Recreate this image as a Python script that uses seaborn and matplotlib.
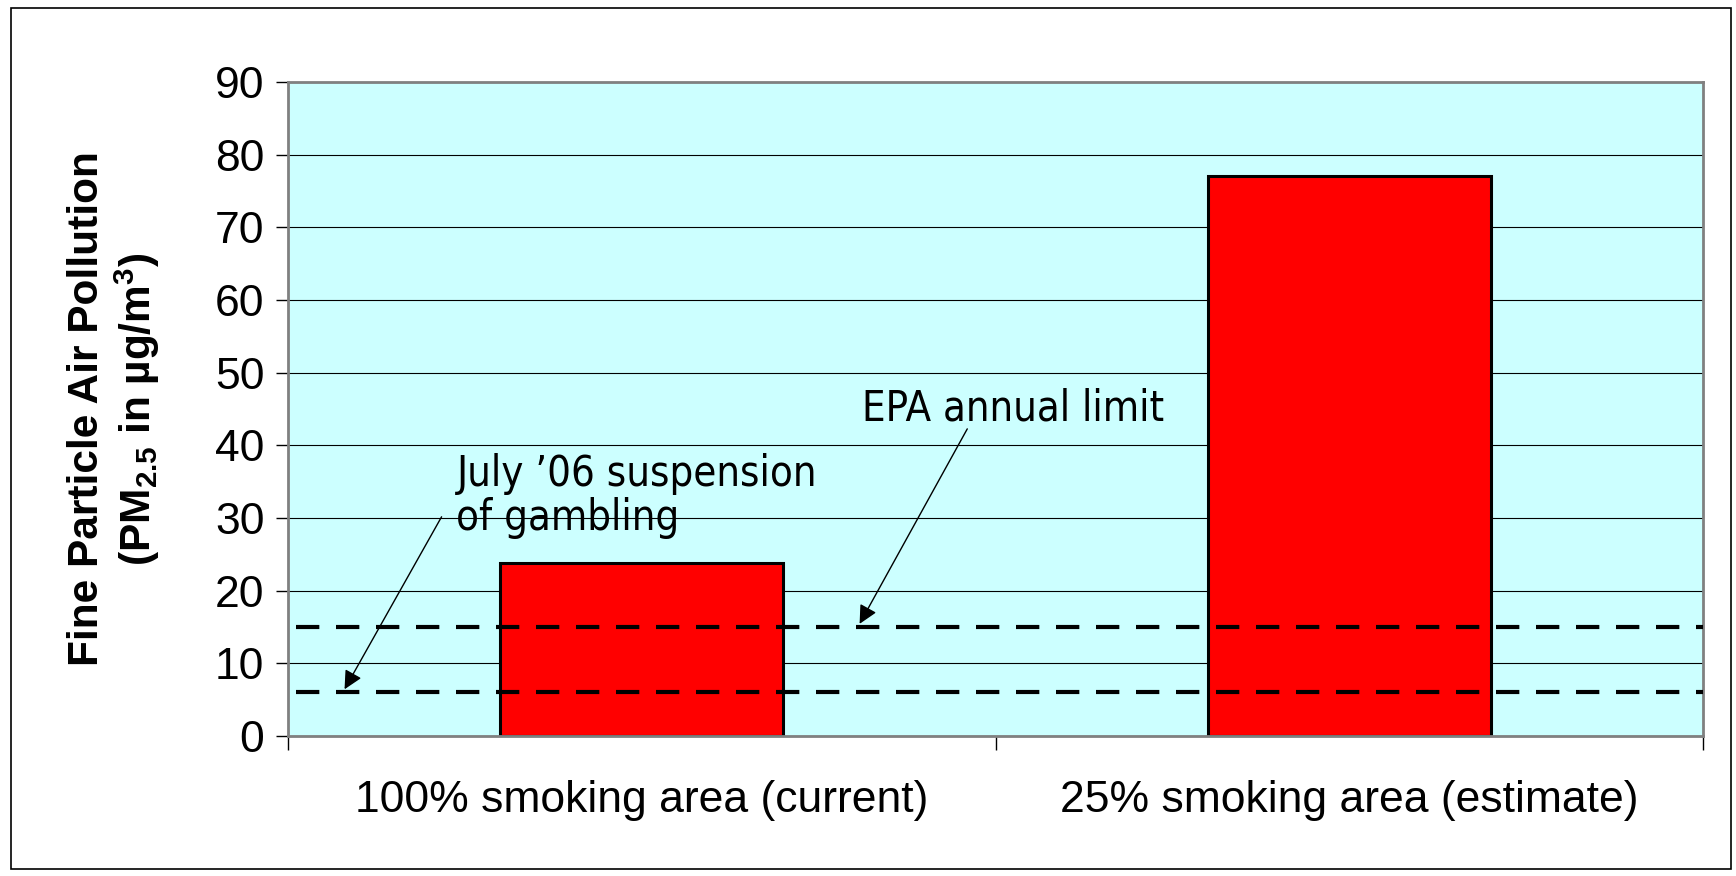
import matplotlib
matplotlib.use('Agg')
import matplotlib.pyplot as plt
import pandas as pd
import seaborn as sns
from matplotlib.patches import Rectangle

# values
areas = ['100% smoking area (current)', '25% smoking area (estimate)']
pm25 = [23.8, 77.0]
epa_limit = 15
suspension_level = 6
y_ticks = list(range(0, 100, 10))

sns.set_theme(style='white', rc={'axes.facecolor': '#CCFFFF', 'text.color': 'black',
                                 'axes.labelcolor': 'black', 'xtick.color': 'black',
                                 'ytick.color': 'black'})
plt.rcParams['font.family'] = ['Liberation Sans', 'DejaVu Sans']
plt.rcParams['mathtext.fontset'] = 'custom'
plt.rcParams['mathtext.rm'] = 'Liberation Sans:bold'
plt.rcParams['mathtext.default'] = 'rm'

df = pd.DataFrame({'area': areas, 'pm25': pm25})

fig = plt.figure(figsize=(17.36, 8.76), dpi=100)
ax = fig.add_axes([0.1659, 0.1598, 0.8151, 0.7466])

sns.barplot(data=df, x='area', y='pm25', color='#FF0000', saturation=1, width=0.4,
            edgecolor='black', linewidth=2.2, ax=ax, zorder=2)

ax.set_xlim(-0.5, 1.5)
ax.set_ylim(0, 90)
ax.set_yticks(y_ticks)
ax.set_axisbelow(True)
ax.yaxis.grid(True, color='black', linewidth=0.8)

# reference lines
for level in [epa_limit, suspension_level]:
    ax.axhline(level, xmin=0.006, xmax=1, color='black', linewidth=3,
               linestyle=(0, (5.6, 4)), zorder=3)

ax.tick_params(axis='y', left=True, length=9, width=1, color='black', labelsize=32, pad=8)
ax.tick_params(axis='x', which='major', bottom=False, length=0, labelsize=32, pad=32)
ax.set_xticks([-0.5, 0.5, 1.5], minor=True)
ax.tick_params(axis='x', which='minor', bottom=True, length=10, width=1, color='black')

ax.set_xlabel('')
ax.set_ylabel('Fine Particle Air Pollution\n(PM$_{2.5}$ in µg/m$^3$)', fontsize=30.5,
              fontweight='bold', linespacing=1.15)
ax.yaxis.set_label_coords(-0.089, 0.5)

for spine in ax.spines.values():
    spine.set_color('#808080')
    spine.set_linewidth(2)

note_font = dict(family='DejaVu Sans', stretch='condensed', fontsize=30, color='black')
ax.text(0.311, 43.4, 'EPA annual limit', va='baseline', ha='left', **note_font)
ax.annotate('', xy=(0.306, 15.1), xytext=(0.462, 42.6),
            arrowprops=dict(arrowstyle='-|>', color='black', lw=1, mutation_scale=28), zorder=4)
ax.text(-0.262, 38.9, 'July \u201906 suspension\nof gambling', va='top', ha='left',
        linespacing=1.05, **note_font)
ax.annotate('', xy=(-0.422, 6.1), xytext=(-0.281, 30.5),
            arrowprops=dict(arrowstyle='-|>', color='black', lw=1, mutation_scale=28), zorder=4)

fig.patches.append(Rectangle((0.0063, 0.008), 0.991, 0.983, transform=fig.transFigure,
                             fill=False, edgecolor='black', linewidth=1.2))

fig.savefig('out.png', dpi=100)
